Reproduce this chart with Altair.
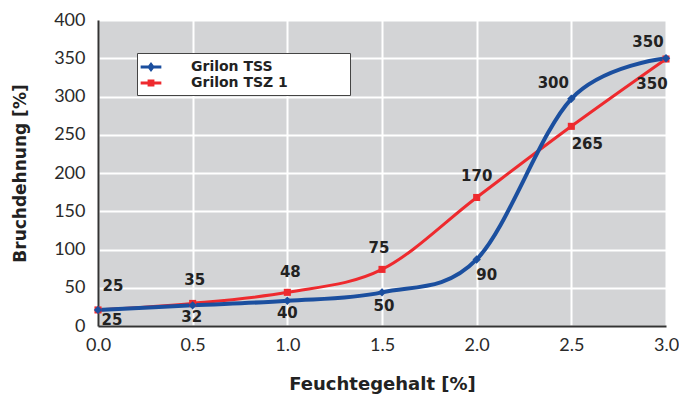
import altair as alt
import pandas as pd

# ---- data ----
x_vals = [0.0, 0.5, 1.0, 1.5, 2.0, 2.5, 3.0]
tss_y = [21, 27, 33, 44, 87, 297, 350]
tsz_y = [21, 29.5, 44, 74, 168, 261, 349]
tss_labels = ["25", "32", "40", "50", "90", "300", "350"]
tsz_labels = ["25", "35", "48", "75", "170", "265", "350"]
series = ["Grilon TSS", "Grilon TSZ 1"]
colors = ["#1b4f9f", "#ee2a2e"]

rows = []
for s, ys, labs, c in [(series[0], tss_y, tss_labels, colors[0]),
                       (series[1], tsz_y, tsz_labels, colors[1])]:
    for i, (xv, yv, lb) in enumerate(zip(x_vals, ys, labs)):
        rows.append({"x": xv, "y": yv, "label": lb, "series": s, "color": c, "idx": i})
df = pd.DataFrame(rows)

TICK_FONT = "Lato"
BOLD_FONT = "DejaVu Sans"
W, H = 568, 306

xenc = alt.X("x:Q", scale=alt.Scale(domain=[0, 3], nice=False),
             axis=alt.Axis(title="Feuchtegehalt [%]", values=[0, 0.5, 1, 1.5, 2, 2.5, 3],
                           format=".1f", labelPadding=10, titlePadding=21, titleFontSize=18,
                           labelFlush=False))
yenc = alt.Y("y:Q", scale=alt.Scale(domain=[0, 400], nice=False),
             axis=alt.Axis(title="Bruchdehnung [%]", values=list(range(0, 401, 50)),
                           labelPadding=13, titlePadding=24, titleFontSize=17,
                           labelFlush=False))

base = alt.Chart(df)

lines_tsz = base.transform_filter(alt.datum.series == series[1]).mark_line(
    interpolate="cardinal", strokeWidth=3, color=colors[1]).encode(x=xenc, y=yenc)
lines_tss = base.transform_filter(alt.datum.series == series[0]).mark_line(
    interpolate="cardinal", strokeWidth=4, color=colors[0]).encode(x=xenc, y=yenc)

pts_tsz = base.transform_filter(alt.datum.series == series[1]).mark_point(
    shape="square", filled=True, size=50, opacity=1, color=colors[1]).encode(x=xenc, y=yenc)
pts_tss = base.transform_filter(alt.datum.series == series[0]).mark_point(
    shape="diamond", filled=True, size=70, opacity=1, color=colors[0]).encode(x=xenc, y=yenc)

path_line = "M-1.15,-0.16L1.15,-0.16L1.15,0.16L-1.15,0.16Z"
path_tss = path_line + " M0,-0.55L0.42,0L0,0.55L-0.42,0Z"
path_tsz = path_line + " M-0.38,-0.38L0.38,-0.38L0.38,0.38L-0.38,0.38Z"

leg = alt.Legend(title="\u00a0", titleOrient="right", titlePadding=57, titleFontSize=8,
                 orient="none", legendX=39, legendY=33,
                 fillColor="white", strokeColor="#444", padding=5,
                 symbolSize=324, symbolStrokeWidth=0, symbolOpacity=1,
                 labelOffset=31, labelFont=BOLD_FONT, labelFontSize=14,
                 labelFontWeight="bold", labelColor="#222", rowPadding=0)

legend_layer = base.mark_point(filled=True, opacity=0).encode(
    x=xenc, y=yenc,
    color=alt.Color("series:N", scale=alt.Scale(domain=series, range=colors), legend=leg),
    shape=alt.Shape("series:N", scale=alt.Scale(domain=series, range=[path_tss, path_tsz]), legend=leg),
)

placements = {
    series[1]: [(0, 15, -24), (1, 2, -23), (2, 3, -20), (3, -3, -21), (4, 0, -21), (5, 16, 18), (6, -14, 25)],
    series[0]: [(0, 14, 10), (1, -1, 12), (2, 0, 12), (3, 2, 14), (4, 10, 16), (5, -18, -16), (6, -18, -16)],
}
text_layers = []
for s, plist in placements.items():
    for i, dx, dy in plist:
        text_layers.append(
            base.transform_filter((alt.datum.series == s) & (alt.datum.idx == i)).mark_text(
                font=BOLD_FONT, fontSize=15, fontWeight="bold", color="#222",
                align="center", baseline="middle", dx=dx, dy=dy
            ).encode(x=xenc, y=yenc, text="label:N")
        )

chart = alt.layer(
    lines_tsz, lines_tss, pts_tsz, pts_tss, legend_layer, *text_layers
).properties(
    width=W, height=H,
    autosize=alt.AutoSizeParams(type="none"),
    padding={"left": 90, "top": 12, "right": 13, "bottom": 76},
    background="white",
).configure_view(
    fill="#d3d4d6", stroke=None
).configure_axis(
    domainColor="#333", domainWidth=2, ticks=False,
    gridColor="white", gridWidth=2, gridOpacity=1,
    labelFont=TICK_FONT, labelFontSize=18, labelFontWeight="normal", labelColor="#2a2a2a",
    titleFont=BOLD_FONT, titleFontWeight="bold", titleColor="#222",
)

chart.save("out.html", embed_options={"renderer": "svg", "actions": False})
